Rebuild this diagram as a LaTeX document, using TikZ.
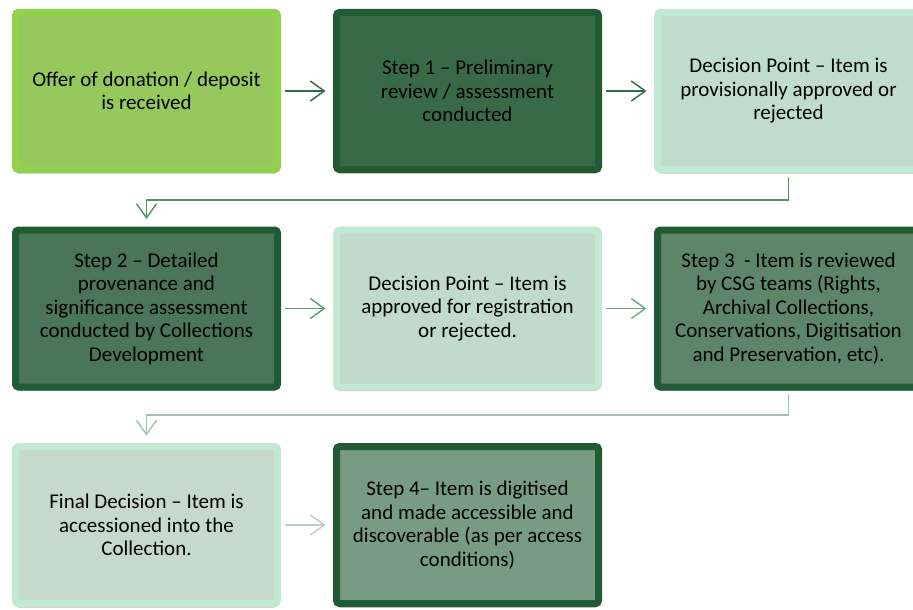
\documentclass[tikz,border=0pt]{standalone}
\usepackage{fontspec}
\setmainfont{Carlito}
\usetikzlibrary{arrows.meta,shadows}
\definecolor{lgBorder}{HTML}{92D050}
\definecolor{lgFill}{HTML}{95C95C}
\definecolor{dkBorder}{HTML}{215B33}
\definecolor{fillA}{HTML}{386A48}
\definecolor{fillB}{HTML}{4A7556}
\definecolor{fillC}{HTML}{5D8568}
\definecolor{fillD}{HTML}{789C82}
\definecolor{ltBorder}{HTML}{C3E9D3}
\definecolor{ltFillA}{HTML}{C0DCCA}
\definecolor{ltFillB}{HTML}{C1DBCA}
\definecolor{ltFillC}{HTML}{C5DACB}
\definecolor{arA}{HTML}{2F6E42}
\definecolor{arB}{HTML}{4E9563}
\definecolor{arC}{HTML}{5DA071}
\definecolor{arD}{HTML}{6EA882}
\definecolor{arE}{HTML}{A0C2AB}
\definecolor{arF}{HTML}{BDCEC2}
\tikzset{
  box/.style={draw, line width=7pt, rounded corners=3pt, minimum width=262pt, minimum height=157pt,
    align=center, inner sep=0pt, text=black,
    font=\fontsize{21}{23.5}\selectfont,
    drop shadow={shadow xshift=0pt, shadow yshift=-4pt, opacity=0.25, fill=black}},
  lgbox/.style={box, draw=lgBorder, fill=lgFill},
  dkbox/.style={box, draw=dkBorder, fill=#1},
  ltbox/.style={box, draw=ltBorder, fill=#1},
  conn/.style={line width=1.4pt, -{Straight Barb[length=14pt,width=20pt]}, shorten >=4pt}
}
\begin{document}
\begin{tikzpicture}[x=1pt,y=-1pt]
\useasboundingbox (0,0) rectangle (913,610);
\clip (0,0) rectangle (913,610);
\fill[white] (0,0) rectangle (913,610);
\node[lgbox] (b1) at (146.5,91) {Offer of donation / deposit\\is received};
\node[dkbox=fillA] (b2) at (467.5,91) {Step 1 -- Preliminary\\review / assessment\\conducted};
\node[ltbox=ltFillA] (b3) at (788.5,91) {Decision Point -- Item is\\provisionally approved or\\rejected};
\node[dkbox=fillB] (s2) at (146.5,308.5) {Step 2 -- Detailed\\provenance and\\significance assessment\\conducted by Collections\\Development};
\node[ltbox=ltFillB] (d2) at (467.5,308.5) {Decision Point -- Item is\\approved for registration\\or rejected.};
\node[dkbox=fillC] (s3) at (788.5,308.5) {Step 3\ \ - Item is reviewed\\by CSG teams (Rights,\\Archival Collections,\\Conservations, Digitisation\\and Preservation, etc).};
\node[ltbox=ltFillC] (fd) at (146.5,525) {Final Decision -- Item is\\accessioned into the\\Collection.};
\node[dkbox=fillD] (s4) at (467.5,525) {Step 4-- Item is digitised\\and made accessible and\\discoverable (as per access\\conditions)};
\coordinate (e1) at (788.5,200);
\coordinate (e2) at (146.5,200);
\coordinate (e3) at (788.5,415);
\coordinate (e4) at (146.5,415);
\draw[conn, draw=arA] ([xshift=3.5pt]b1.east) -- ([xshift=-3.5pt]b2.west);
\draw[conn, draw=arA] ([xshift=3.5pt]b2.east) -- ([xshift=-3.5pt]b3.west);
\draw[conn, draw=arB] ([yshift=-3.5pt]b3.south) -- (e1) -- (e2) -- ([yshift=3.5pt]s2.north);
\draw[conn, draw=arC] ([xshift=3.5pt]s2.east) -- ([xshift=-3.5pt]d2.west);
\draw[conn, draw=arD] ([xshift=3.5pt]d2.east) -- ([xshift=-3.5pt]s3.west);
\draw[conn, draw=arE] ([yshift=-3.5pt]s3.south) -- (e3) -- (e4) -- ([yshift=3.5pt]fd.north);
\draw[conn, draw=arF] ([xshift=3.5pt]fd.east) -- ([xshift=-3.5pt]s4.west);
\end{tikzpicture}
\end{document}
